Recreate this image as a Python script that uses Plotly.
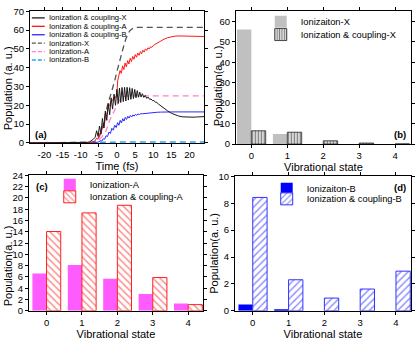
import plotly.graph_objects as go

W, H = 415, 341
FONT = "Liberation Sans, Arial, sans-serif"

# ---------------- panel (a) data ----------------
time_ticks = [-20, -15, -10, -5, 0, 5, 10, 15, 20]
time_tick_labels = ["-20", "-15", "-10", "-5", "0", "5", "10", "15", "20"]

t_ion_x = [-24, -9, -7, -6, -5, -4.5, -4, -3.5, -3, -2.5, -2, -1.5, -1, -0.5, 0, 0.5, 1, 1.5, 2, 2.5, 3, 3.5, 4, 4.5, 5, 24]
v_ion_x = [0, 0, 0.3, 1, 3, 5, 8, 12, 17, 21, 24, 27, 30, 34, 38, 42, 46, 49.5, 52.5, 55.5, 57.8, 59.5, 60.5, 61.2, 61.5, 61.5]

t_ion_a = [-24, -7, -6, -5, -4, -3, -2, -1, 0, 1, 2, 3, 24]
v_ion_a = [0, 0, 0.3, 1.5, 3.5, 6.5, 12, 16, 20.5, 24, 24.8, 25, 25]

t_ion_b = [-24, -5, -3, -1, 0, 24]
v_ion_b = [0, 0, 0.2, 0.4, 0.5, 0.5]

t_cpl_x = [-24, -9, -8, -7.5, -7, -6.5, -6, -5.6, -5.2, -4.8, -4.4, -4.0, -3.6, -3.2, -2.8, -2.4, -2.0, -1.6, -1.2, -0.8, -0.4, 0.0,
           0.35, 0.7, 1.05, 1.4, 1.75, 2.1, 2.45, 2.8, 3.15, 3.5, 3.85, 4.2, 4.55, 4.9, 5.25, 5.6, 5.95, 6.3, 6.65, 7.0,
           7.4, 7.8, 8.2, 8.6, 9.0, 9.4, 9.8, 10.2, 10.6, 11.0, 11.5, 12, 13, 14, 15, 16, 17, 18, 19, 20, 21, 22, 23, 24]
v_cpl_x = [0, 0, 0.3, 0.6, 1.2, 2.0, 3.0, 6.5, 3.5, 9, 5, 13, 8, 17, 12, 21, 15, 24, 18, 26, 20, 28.5,
           21, 29.2, 21.5, 29.5, 22, 29.6, 22.3, 29.6, 22.8, 29.4, 23.2, 29, 23.6, 28.5, 24, 27.8, 24.3, 27, 24.4, 26.2,
           24.2, 25.3, 23.7, 24.4, 23.2, 23.4, 22.5, 22.6, 21.6, 21.5, 20.6, 19.8, 18.3, 17, 15.8, 14.9, 14.3, 13.9, 13.7, 13.6, 13.7, 13.8, 13.9, 14.0]

t_cpl_a = [-24, -8, -7, -6.5, -6, -5.6, -5.2, -4.8, -4.4, -4.0, -3.6, -3.2, -2.8, -2.4, -2.0, -1.6, -1.2, -0.8, -0.4, 0.0,
           0.2, 0.5, 0.85, 1.2, 1.55, 1.9, 2.25, 2.6, 2.95, 3.3, 3.65, 4.0, 4.35, 4.7, 5.05, 5.4, 5.75, 6.1, 6.45, 6.8,
           7.15, 7.5, 7.85, 8.2, 8.55, 8.9, 9.25, 9.6, 10.0, 10.5, 11, 12, 13, 14, 15, 16, 17, 18, 20, 22, 24]
v_cpl_a = [0, 0, 0.2, 0.5, 1.2, 2.5, 2.0, 5, 4.5, 8.5, 8, 13, 15, 19, 20, 22.5, 22.5, 24.5, 24, 26,
           33, 35.5, 38.5, 37, 41, 39, 42.5, 40.5, 43.8, 42, 45, 43.3, 46, 44.5, 47, 45.6, 47.8, 46.6, 48.6, 47.4,
           49.3, 48.3, 50, 49.2, 50.6, 50, 51.2, 50.8, 51.8, 52.4, 53, 54.2, 55.2, 56, 56.5, 56.8, 56.9, 56.9, 56.8, 56.7, 56.6]

t_cpl_b = [-24, -7, -6, -5.5, -5, -4.6, -4.2, -3.8, -3.4, -3.0, -2.6, -2.2, -1.8, -1.4, -1.0, -0.6, -0.2, 0.2, 0.55, 0.9,
           1.25, 1.6, 1.95, 2.3, 2.65, 3.0, 3.35, 3.7, 4.05, 4.4, 4.75, 5.1, 5.45, 5.8, 6.2, 6.6, 7.0, 8, 9, 10,
           11, 12, 13, 14, 16, 18, 20, 24]
v_cpl_b = [0, 0, 0.1, 0.3, 0.6, 1.2, 1.0, 2.2, 2.0, 3.8, 3.4, 5.8, 5.0, 7.8, 6.8, 9.4, 8.2, 10.8, 9.4, 12.0,
           10.6, 12.9, 11.6, 13.6, 12.5, 14.2, 13.2, 14.6, 13.8, 14.9, 14.3, 15.2, 14.7, 15.4, 15.1, 15.6, 15.5, 15.8, 16.0, 16.2,
           16.3, 16.4, 16.5, 16.5, 16.5, 16.5, 16.5, 16.5]

a_names = ["Ionization & coupling-X", "Ionization & coupling-A", "Ionization & coupling-B",
           "Ionization-X", "Ionization-A", "Ionization-B"]

# ---------------- bar data ----------------
states = [0, 1, 2, 3, 4]
b_ion_x = [56.0, 4.9, 0, 0, 0]
b_cpl_x = [6.5, 5.8, 1.6, 0.5, 0.1]
c_ion_a = [6.6, 8.1, 5.7, 3.0, 1.3]
c_cpl_a = [14.05, 17.35, 18.7, 5.9, 1.1]
d_ion_b = [0.48, 0.05, 0, 0, 0]
d_cpl_b = [8.43, 2.31, 0.95, 1.62, 2.95]

fig = go.Figure()

# ---------- (a) lines ----------
a_series = [
    (t_cpl_x, v_cpl_x, "#1a1a1a", "solid", 1.0),
    (t_cpl_a, v_cpl_a, "#ff1a1a", "solid", 1.0),
    (t_cpl_b, v_cpl_b, "#2a2aff", "solid", 1.0),
    (t_ion_x, v_ion_x, "#555555", "6px,4px", 1.3),
    (t_ion_a, v_ion_a, "#ff7fd0", "6px,4px", 1.3),
    (t_ion_b, v_ion_b, "#2aa8f0", "6px,4px", 1.5),
]
draw_order = [3, 4, 5, 2, 1, 0]
for i in draw_order:
    t, v, c, d, w = a_series[i]
    fig.add_trace(go.Scatter(x=t, y=v, mode="lines", name=a_names[i], showlegend=False,
                             line=dict(color=c, dash=d, width=w), xaxis="x", yaxis="y"))

# ---------- (b) bars ----------
fig.add_trace(go.Bar(x=states, y=b_ion_x, name="Ionizaiton-X", marker=dict(color="#c0c0c0", line=dict(width=0)),
                     xaxis="x2", yaxis="y2", legend="legend", offsetgroup="b1"))
fig.add_trace(go.Bar(x=states, y=b_cpl_x, name="Ionization & coupling-X",
                     marker=dict(color="white", line=dict(color="#222222", width=0.8),
                                 pattern=dict(shape="|", fgcolor="#111111", bgcolor="#e8e8e8", size=3, solidity=0.45)),
                     xaxis="x2", yaxis="y2", legend="legend2", offsetgroup="b2"))

# ---------- (c) bars ----------
fig.add_trace(go.Bar(x=states, y=c_ion_a, name="Ionization-A", marker=dict(color="#ff5cff", line=dict(width=0)),
                     xaxis="x3", yaxis="y3", legend="legend3", offsetgroup="c1"))
fig.add_trace(go.Bar(x=states, y=c_cpl_a, name="Ionzation & coupling-A",
                     marker=dict(color="white", line=dict(color="#ff2020", width=1),
                                 pattern=dict(shape="\\", fgcolor="#ff2020", bgcolor="white", size=5, solidity=0.3)),
                     xaxis="x3", yaxis="y3", legend="legend4", offsetgroup="c2"))

# ---------- (d) bars ----------
fig.add_trace(go.Bar(x=states, y=d_ion_b, name="Ionizaiton-B", marker=dict(color="#0000ff", line=dict(width=0)),
                     xaxis="x4", yaxis="y4", legend="legend5", offsetgroup="d1"))
fig.add_trace(go.Bar(x=states, y=d_cpl_b, name="Ionization & coupling-B",
                     marker=dict(color="white", line=dict(color="#3333ff", width=1),
                                 pattern=dict(shape="/", fgcolor="#2a2aff", bgcolor="white", size=5, solidity=0.3)),
                     xaxis="x4", yaxis="y4", legend="legend6", offsetgroup="d2"))


def ax(domain, rng, dtick, title, anchor, tickvals=None, ticktext=None):
    d = dict(domain=domain, range=rng, anchor=anchor, showgrid=False, zeroline=False,
             showline=True, linecolor="black", linewidth=1, mirror="ticks",
             ticks="outside", ticklen=3, tickwidth=1, tickcolor="black", tickangle=0,
             tickfont=dict(family=FONT, size=9.5, color="black"))
    if tickvals is not None:
        d.update(tickmode="array", tickvals=tickvals, ticktext=ticktext)
    else:
        d.update(dtick=dtick, tick0=0)
    if title:
        d["title"] = dict(text=title, font=dict(family=FONT, size=11, color="black"), standoff=1)
    return d


px = lambda v: v / W
py = lambda v: 1 - v / H


def leg(xpix, row_center):
    return dict(x=px(xpix), y=py(row_center - 14.5), xanchor="left", yanchor="top",
                bgcolor="rgba(0,0,0,0)", borderwidth=0,
                font=dict(family=FONT, size=9.3, color="black"), itemwidth=30, tracegroupgap=0)


fig.update_layout(
    width=W, height=H, margin=dict(l=0, r=0, t=0, b=0),
    paper_bgcolor="white", plot_bgcolor="white",
    barmode="group", bargap=0.2, bargroupgap=0.0,
    font=dict(family=FONT, size=10, color="black"),
    xaxis=ax([px(30), px(205)], [-24, 24], 5, "Time (fs)", "y", time_ticks, time_tick_labels),
    yaxis=ax([py(141.5), py(5.5)], [0, 70], 10, None, "x"),
    xaxis2=ax([px(237), px(413)], [-0.43, 4.44], 1, "Vibrational state", "y2"),
    yaxis2=ax([py(142.7), py(5.2)], [0, 65], 10, None, "x2"),
    xaxis3=ax([px(29), px(204)], [-0.5, 4.42], 1, "Vibrational state", "y3"),
    yaxis3=ax([py(315), py(175)], [0, 24], 2, None, "x3"),
    xaxis4=ax([px(236), px(413)], [-0.5, 4.42], 1, "Vibrational state", "y4"),
    yaxis4=ax([py(315), py(176)], [0, 10], 2, None, "x4"),
    legend=leg(262, 15.7),
    legend2=leg(262, 29.0),
    legend3=leg(50, 184.3),
    legend4=leg(50, 196.7),
    legend5=leg(268, 188.3),
    legend6=leg(268, 198.8),
)

shapes = []
annots = []
# manual compact legend for panel (a)
row0, step = 12.3, 8.7
for k in range(6):
    _, _, c, d, w = a_series[k]
    yy = py(row0 + k * step)
    shapes.append(dict(type="line", xref="paper", yref="paper", x0=px(32), x1=px(45), y0=yy, y1=yy,
                       line=dict(color=c, dash="4px,2px" if d != "solid" else "solid", width=1.3)))
    annots.append(dict(xref="paper", yref="paper", x=px(47), y=yy, text=a_names[k], showarrow=False,
                       xanchor="left", yanchor="middle", font=dict(family=FONT, size=7.6, color="black")))

# y-axis titles
for txt, xx, yy in [("Population (a. u.)", 8, 85), ("Population(a. u.)", 219, 82),
                    ("Population(a. u.)", 8, 268), ("Population(a. u.)", 215, 255)]:
    annots.append(dict(xref="paper", yref="paper", x=px(xx), y=py(yy), text=txt, showarrow=False,
                       textangle=-90, xanchor="center", yanchor="middle",
                       font=dict(family=FONT, size=11, color="black")))

# panel labels
for lab, xx, yy in [("(a)", 33, 133), ("(b)", 410, 133), ("(c)", 34, 186), ("(d)", 410, 188)]:
    annots.append(dict(xref="paper", yref="paper", x=px(xx), y=py(yy), text="<b>" + lab + "</b>", showarrow=False,
                       xanchor="left" if lab in ("(a)", "(c)") else "right", yanchor="middle",
                       font=dict(family=FONT, size=9.5, color="black")))

fig.update_layout(shapes=shapes, annotations=annots)
fig.write_html("out.html", config={"displayModeBar": False},
               post_script="document.body.style.margin='0';document.body.style.padding='0';")
